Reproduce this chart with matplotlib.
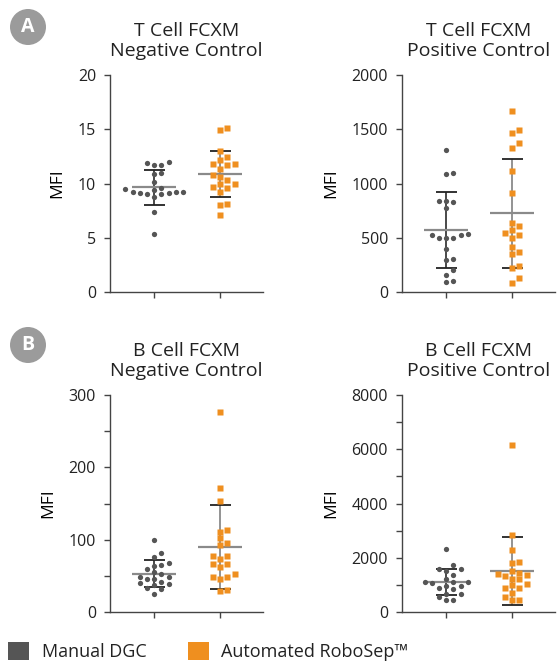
import matplotlib
matplotlib.use("Agg")
import matplotlib.pyplot as plt
import numpy as np
from matplotlib.patches import Ellipse, Patch

plt.rcParams['font.family'] = ['Open Sans', 'DejaVu Sans']
plt.rcParams['text.color'] = '#222222'

GRAY = '#555555'
ORANGE = '#ef8f1f'

# MFI values (20 samples per group)
t_neg_manual = [5.3, 7.4, 8.8, 9.0, 9.1, 9.1, 9.2, 9.2, 9.2, 9.4, 9.5, 10.1, 10.9, 11.0,
                11.7, 11.7, 11.9, 12.0, 9.0, 9.6]
t_neg_robo = [14.9, 15.1, 13.0, 12.2, 12.4, 11.8, 11.7, 11.8, 11.3, 10.8, 10.6, 10.3, 10.0,
              10.0, 9.6, 9.7, 9.2, 8.0, 8.1, 7.1]
t_pos_manual = [1308, 1092, 1095, 825, 840, 840, 772, 529, 529, 538, 495, 495, 495, 397,
                295, 305, 200, 154, 92, 102]
t_pos_robo = [1671, 1468, 1495, 1369, 1329, 1114, 914, 606, 637, 569, 542, 526, 495, 412,
              366, 348, 237, 222, 129, 83]
b_neg_manual = [100, 81, 76, 68, 65, 64, 60, 53, 55, 49, 49, 46, 45, 40, 41, 39, 37, 33, 32, 25]
b_neg_robo = [277, 172, 153, 111, 113, 102, 92, 96, 78, 77, 73, 66, 66, 62, 53, 48, 48, 45,
              29, 31]
b_pos_manual = [2310, 1720, 1600, 1600, 1510, 1380, 1230, 1110, 1100, 1080, 1110, 960, 960,
                860, 890, 650, 680, 550, 430, 430]
b_pos_robo = [6150, 2830, 2280, 1810, 1850, 1510, 1350, 1440, 1200, 1320, 1230, 1400, 1050,
              890, 880, 700, 550, 430, 430, 1000]

titles = ['T Cell FCXM\nNegative Control', 'T Cell FCXM\nPositive Control',
          'B Cell FCXM\nNegative Control', 'B Cell FCXM\nPositive Control']
y_max = [20, 2000, 300, 8000]
y_step = [5, 500, 100, 2000]
y_minor = [None, None, 50, 1000]
labels = ['Manual DGC', 'Automated RoboSep™']

fig = plt.figure(figsize=(5.57, 6.69), dpi=100)
W, H = 557, 669


def swarm_x(vals, ax, x0, step_px=7.2, min_d=6.2):
    # simple beeswarm in pixel space so the dots don't overlap
    bb = ax.get_window_extent()
    x_lo, x_hi = ax.get_xlim()
    y_lo, y_hi = ax.get_ylim()
    sx = bb.width / (x_hi - x_lo)
    sy = bb.height / (y_hi - y_lo)
    order = np.argsort(vals)
    placed = []
    xs = np.zeros(len(vals))
    for i in order:
        ypx = vals[i] * sy
        k = 0
        while True:
            off = ((k + 1) // 2) * (1 if k % 2 else -1) * step_px
            if all(np.hypot(off - px, ypx - py) >= min_d for px, py in placed):
                break
            k += 1
        placed.append((off, ypx))
        xs[i] = x0 + off / sx
    return xs


def draw_panel(ax, groups, title, ymax, ystep, yminor):
    ax.set_xlim(0.33, 2.65)
    ax.set_ylim(0, ymax)
    ax.set_yticks(np.arange(0, ymax + 1, ystep))
    if yminor:
        ax.set_yticks(np.arange(yminor, ymax, ystep), minor=True)
    ax.set_xticks([1, 2])
    ax.set_xticklabels([])
    for s in ['top', 'right']:
        ax.spines[s].set_visible(False)
    for s in ['left', 'bottom']:
        ax.spines[s].set_color('#444444')
        ax.spines[s].set_linewidth(1.0)
    ax.tick_params(axis='both', which='both', direction='out', length=4.5, width=1.0,
                   color='#444444', labelsize=11.5, labelcolor='#222222', pad=5.5)
    ax.set_ylabel('MFI', fontsize=12.5, labelpad=9)
    ax.set_title(title, fontsize=14, linespacing=1.1, pad=14)

    for j, (vals, color, marker, vcol) in enumerate(groups):
        x0 = j + 1
        vals = np.asarray(vals, dtype=float)
        m = vals.mean()
        sd = vals.std(ddof=1)
        ax.vlines(x0, m - sd, m + sd, color=vcol, lw=1.3, zorder=2)
        ax.hlines([m - sd, m + sd], x0 - 0.16, x0 + 0.16, color='#222222', lw=1.3, zorder=2)
        ax.hlines(m, x0 - 0.33, x0 + 0.33, color='#8a8a8a', lw=1.6, zorder=2)
        xs = swarm_x(vals, ax, x0)
        ax.plot(xs, vals, linestyle='none', marker=marker, ms=3.8, mfc=color, mec='none',
                zorder=3)


panel_data = [
    (t_neg_manual, t_neg_robo),
    (t_pos_manual, t_pos_robo),
    (b_neg_manual, b_neg_robo),
    (b_pos_manual, b_pos_robo),
]
lefts = [110, 402, 110, 402]
bottoms = [292, 292, 612, 612]
for i, (man, rob) in enumerate(panel_data):
    ax = fig.add_axes([lefts[i] / W, 1 - bottoms[i] / H, 153 / W, 217 / H])
    groups = [(man, GRAY, 'o', '#3a3a3a'), (rob, ORANGE, 's', '#8a8a8a')]
    draw_panel(ax, groups, titles[i], y_max[i], y_step[i], y_minor[i])

# panel badges
for letter, cy in [('A', 27), ('B', 345)]:
    fig.patches.append(Ellipse((28 / W, 1 - cy / H), 36 / W, 36 / H, transform=fig.transFigure,
                               facecolor='#9b9b9b', edgecolor='none'))
    fig.text(28 / W, 1 - cy / H, letter, color='white', fontsize=14, fontweight='bold',
             ha='center', va='center')

handles = [Patch(facecolor=GRAY, edgecolor='none'), Patch(facecolor=ORANGE, edgecolor='none')]
fig.legend(handles, labels, loc='lower left', bbox_to_anchor=(0, 0), ncol=2, frameon=False,
           fontsize=13, handlelength=1.15, handleheight=1.15, handletextpad=0.7,
           columnspacing=2.3, borderaxespad=0.05)

fig.savefig('out.png', dpi=100)
